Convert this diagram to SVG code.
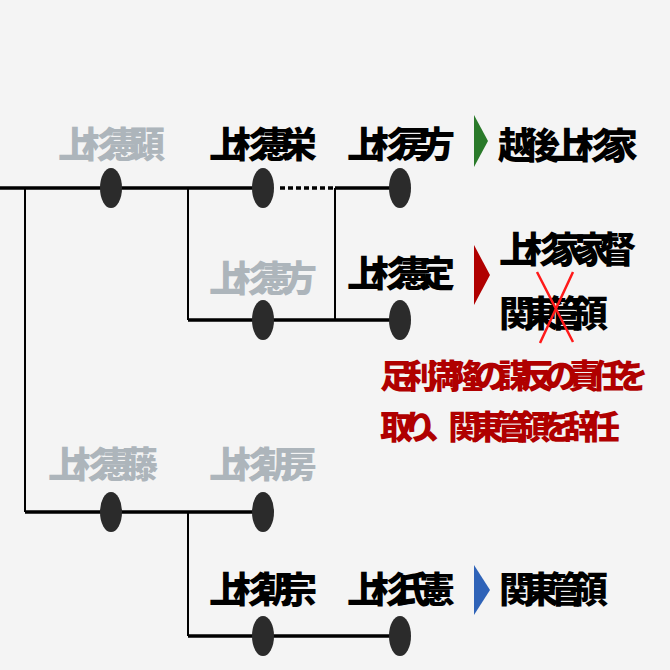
<svg xmlns="http://www.w3.org/2000/svg" width="670" height="670" viewBox="0 0 670 670">
<style>
text{font-family:"Noto Sans CJK JP",sans-serif;font-weight:900;font-size:36px;fill:#000}
.g{fill:#adb5bb}
.r{fill:#b00000;font-size:33px}
.ln{stroke:#000;stroke-width:3.5;fill:none}
.th{stroke:#000;stroke-width:2;fill:none}
.n{fill:#2b2b2b}
</style>
<rect width="670" height="670" fill="#f4f4f4"/>
<g id="connectors">
<line class="ln" x1="0" y1="188" x2="263" y2="188"/>
<line class="ln" x1="280" y1="188" x2="335" y2="188" stroke-dasharray="5,3"/>
<line class="ln" x1="335" y1="188" x2="400" y2="188"/>
<line class="th" x1="25" y1="188" x2="25" y2="512"/>
<line class="th" x1="188" y1="188" x2="188" y2="320"/>
<line class="th" x1="335" y1="188" x2="335" y2="320"/>
<line class="ln" x1="188" y1="320" x2="400" y2="320"/>
<line class="ln" x1="25" y1="512" x2="263" y2="512"/>
<line class="th" x1="188" y1="512" x2="188" y2="636"/>
<line class="ln" x1="188" y1="636" x2="400" y2="636"/>
</g>
<g id="n1"><ellipse class="n" cx="111" cy="188" rx="11" ry="20"/><text class="g" x="58" y="158" textLength="107">上杉憲顕</text></g>
<g id="n2"><ellipse class="n" cx="263" cy="188" rx="11" ry="20"/><text x="209" y="158" textLength="108">上杉憲栄</text></g>
<g id="n3"><ellipse class="n" cx="400" cy="188" rx="11" ry="20"/><text x="347" y="158" textLength="108">上杉房方</text></g>
<g id="n4"><ellipse class="n" cx="263" cy="320" rx="11" ry="20"/><text class="g" x="209" y="292" textLength="108">上杉憲方</text></g>
<g id="n5"><ellipse class="n" cx="400" cy="320" rx="11" ry="20"/><text x="347" y="287" textLength="108">上杉憲定</text></g>
<g id="n6"><ellipse class="n" cx="111" cy="512" rx="11" ry="20"/><text class="g" x="48" y="478" textLength="110">上杉憲藤</text></g>
<g id="n7"><ellipse class="n" cx="263" cy="512" rx="11" ry="20"/><text class="g" x="209" y="478" textLength="108">上杉朝房</text></g>
<g id="n8"><ellipse class="n" cx="263" cy="636" rx="11" ry="20"/><text x="209" y="603" textLength="108">上杉朝宗</text></g>
<g id="n9"><ellipse class="n" cx="400" cy="636" rx="11" ry="20"/><text x="347" y="603" textLength="108">上杉氏憲</text></g>
<g id="r1"><polygon points="474,115 488,141 474,167" fill="#2a7a2a"/><text x="498" y="159" textLength="140">越後上杉家</text></g>
<g id="r2"><polygon points="474,245 490,275 474,305" fill="#b00000"/>
<text x="499" y="263" textLength="137">上杉家家督</text>
<text x="499" y="327" textLength="109">関東管領</text>
<path d="M537,272 L573,342 M573,272 L540,343" stroke="#ff1a1a" stroke-width="2.5" fill="none"/>
<text class="r" x="380" y="388" textLength="268">足利満隆の謀反の責任を</text>
<text class="r" x="380" y="439" textLength="240">取り、関東管領を辞任</text></g>
<g id="r3"><polygon points="474,565 490,590 474,615" fill="#2f63b8"/><text x="499" y="603" textLength="109">関東管領</text></g>
</svg>
